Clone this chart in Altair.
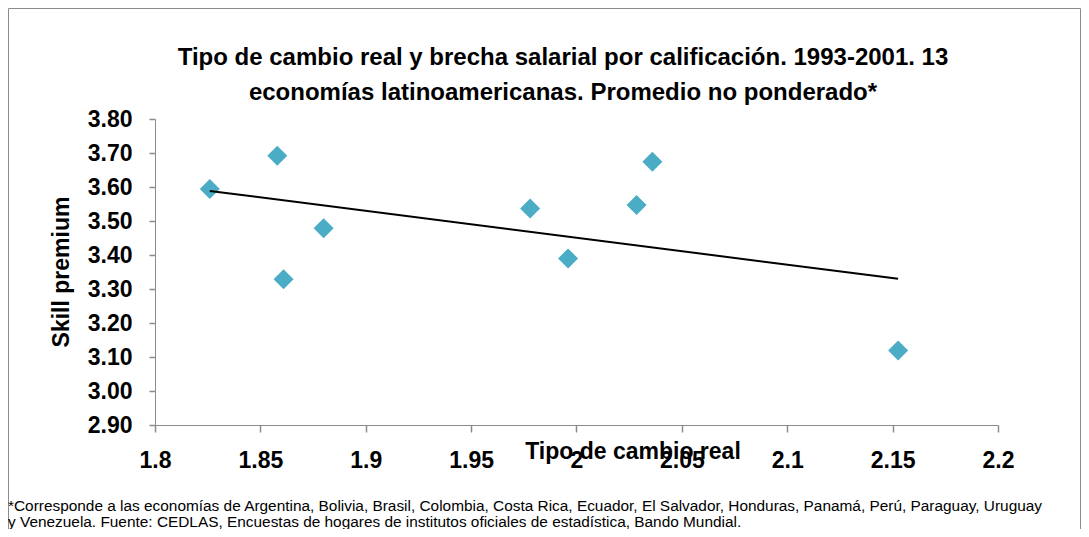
import altair as alt
import pandas as pd

# Data
tipo_cambio = [1.826, 1.858, 1.880, 1.861, 1.978, 1.996, 2.0285, 2.036, 2.1526]
skill_premium = [3.594, 3.692, 3.479, 3.329, 3.537, 3.390, 3.547, 3.674, 3.119]

x_ticks = [1.8, 1.85, 1.9, 1.95, 2.0, 2.05, 2.1, 2.15, 2.2]
y_ticks = [2.9, 3.0, 3.1, 3.2, 3.3, 3.4, 3.5, 3.6, 3.7, 3.8]

title_lines = [
    "Tipo de cambio real y brecha salarial por calificación. 1993-2001. 13",
    "economías latinoamericanas. Promedio no ponderado*",
]
x_title = "Tipo de cambio real"
y_title = "Skill premium"
footnote_lines = [
    "*Corresponde a las economías de Argentina, Bolivia, Brasil, Colombia, Costa Rica, Ecuador, El Salvador, Honduras, Panamá, Perú, Paraguay, Uruguay",
    "y Venezuela.  Fuente: CEDLAS,  Encuestas de hogares de institutos oficiales de estadística, Bando Mundial.",
]

FONT = "Liberation Sans"
W, H = 843, 306
PL, PT, PR, PB = 147, 111, 83, 104

df = pd.DataFrame({"x": tipo_cambio, "y": skill_premium})

xs = alt.Scale(domain=[1.8, 2.2], nice=False, zero=False)
ys = alt.Scale(domain=[2.9, 3.8], nice=False, zero=False)

x_axis = alt.Axis(values=x_ticks, format="~g", title=None, labelPadding=17)
y_axis = alt.Axis(values=y_ticks, format=".2f", title=None, labelPadding=17)

points = alt.Chart(df).mark_point(
    shape="diamond", filled=True, size=400, color="#4BACC6", opacity=1
).encode(
    x=alt.X("x:Q", scale=xs, axis=x_axis),
    y=alt.Y("y:Q", scale=ys, axis=y_axis),
)

trend = alt.Chart(df).transform_regression("x", "y").mark_line(
    color="#000000", strokeWidth=2
).encode(
    x=alt.X("x:Q", scale=xs, axis=x_axis),
    y=alt.Y("y:Q", scale=ys, axis=y_axis),
)

one = pd.DataFrame({"a": [0]})

def text_mark(txt, x, y, size, weight="bold", align="center", angle=0, baseline="middle"):
    kw = dict(text=txt, font=FONT, fontSize=size, fontWeight=weight, align=align,
              baseline=baseline, color="#000000")
    if angle:
        kw["angle"] = angle
    return alt.Chart(one).mark_text(**kw).encode(x=alt.value(x), y=alt.value(y))

texts = [
    text_mark(title_lines[0], 563 - 155, 58 - 119, 24),
    text_mark(title_lines[1], 563 - 155, 93 - 119, 24),
    text_mark(x_title, 633 - 155, 452 - 119, 23),
    text_mark(y_title, 62 - 155, 272 - 119, 23, angle=270),
    text_mark(footnote_lines[0], 8 - 155, 506 - 119, 15.4, weight="normal", align="left"),
    text_mark(footnote_lines[1], 8 - 155, 522 - 119, 15.4, weight="normal", align="left"),
]

border = alt.Chart(one).mark_rect(filled=False, stroke="#8c8c8c", strokeWidth=1).encode(
    x=alt.value(-PL + 0.5), x2=alt.value(W + PR - 0.5),
    y=alt.value(-PT + 0.5), y2=alt.value(H + PB + 30),
)

chart = alt.layer(points, trend, border, *texts).properties(
    width=W, height=H,
    autosize=alt.AutoSizeParams(type="none"),
    padding={"left": PL, "top": PT, "right": PR, "bottom": PB},
).configure_view(strokeWidth=0).configure_axis(
    grid=False, domainColor="#8c8c8c", tickColor="#8c8c8c", ticks=True, tickWidth=1.5,
    labelFont=FONT, labelFontSize=23, labelFontWeight="bold", labelColor="#000000",
    labelOverlap=False, labelFlush=False,
).configure_axisX(tickSize=7).configure_axisY(tickSize=6)

chart.save("out.html", embed_options={"renderer": "svg", "actions": False})
